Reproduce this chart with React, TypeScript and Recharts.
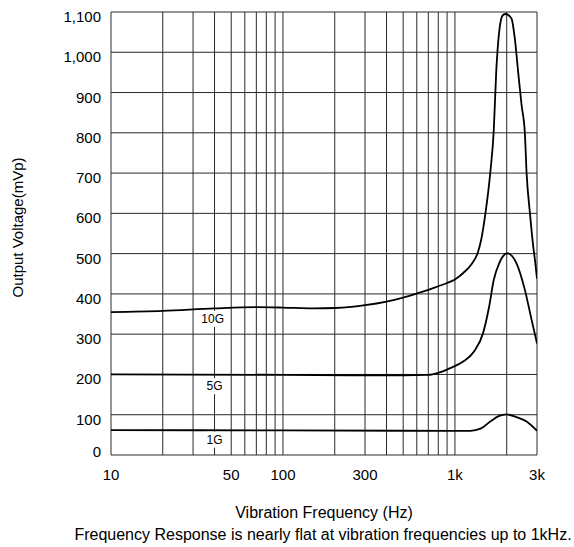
import { LineChart, Line, XAxis, YAxis, ReferenceLine, ReferenceDot } from 'recharts'

const FONT = '"Liberation Sans", Arial, sans-serif'

// frequency (Hz) / output (mVp)
const freq10G = [10, 20, 40, 70, 100, 150, 200, 250, 300, 400, 500, 600, 700, 800, 900, 1000, 1117, 1260, 1354, 1420, 1504, 1604, 1682, 1738, 1808, 1897, 1971, 2131, 2228, 2330, 2440, 2550, 2610, 2730, 2854, 2920, 3000]
const volt10G = [355, 358, 364, 367, 366, 364, 365, 368, 372, 381, 391, 401, 410, 419, 427, 436, 452, 476, 501, 534, 600, 700, 807, 952, 1051, 1092, 1095, 1084, 1035, 952, 869, 799, 700, 600, 517, 484, 438]

const freq5G = [10, 100, 300, 500, 700, 800, 930, 1117, 1291, 1456, 1580, 1682, 1808, 2008, 2280, 2550, 2793, 3000]
const volt5G = [200, 199, 198, 198, 199, 204, 215, 232, 257, 302, 368, 435, 476, 501, 476, 410, 335, 277]

const freq1G = [10, 100, 1000, 1229, 1420, 1604, 1808, 1990, 2280, 2610, 3000]
const volt1G = [62, 61, 60, 60, 66, 83, 97, 101, 94, 83, 60]

const xTicks = [10, 50, 100, 300, 1000, 3000]
const xGrid = [10, 20, 30, 40, 50, 60, 70, 80, 90, 100, 200, 300, 400, 500, 600, 700, 800, 900, 1000, 2000, 3000]
const yTicks = [0, 100, 200, 300, 400, 500, 600, 700, 800, 900, 1000, 1100]

const curveLabels = [
  { name: '10G', f: 39, v: 338 },
  { name: '5G', f: 40, v: 171 },
  { name: '1G', f: 40, v: 38 },
]

const toSeries = (fs: number[], vs: number[]) => fs.map((f, i) => ({ f, v: vs[i] }))

const fmtX = (v: number) => (v >= 1000 ? `${v / 1000}k` : `${v}`)

function XTick({ x, y, payload }: any) {
  return (
    <text x={x} y={y} dy={25} textAnchor="middle" fontSize={15} fontFamily={FONT} fill="#000">
      {fmtX(payload.value)}
    </text>
  )
}

function YTick({ x, y, payload }: any) {
  return (
    <text x={x} y={y} dy={payload.value === 0 ? 2 : 10} textAnchor="end" fontSize={15} fontFamily={FONT} fill="#000">
      {payload.value.toLocaleString('en-US')}
    </text>
  )
}

function CurveTag({ cx, cy, name }: any) {
  const w = name.length * 7 + 2
  return (
    <g>
      <rect x={cx - w / 2} y={cy - 8} width={w} height={16} fill="#fff" />
      <text x={cx} y={cy} dy={4} textAnchor="middle" fontSize={12} fontFamily={FONT} fill="#000">
        {name}
      </text>
    </g>
  )
}

export default function App() {
  const series = [
    { key: '10G', data: toSeries(freq10G, volt10G) },
    { key: '5G', data: toSeries(freq5G, volt5G) },
    { key: '1G', data: toSeries(freq1G, volt1G) },
  ]

  return (
    <div style={{ position: 'relative', width: 574, height: 547 }}>
      <style>{`body{margin:0;}`}</style>
      <LineChart width={574} height={547} margin={{ top: 12, right: 37, left: 0, bottom: 62 }}>
        <XAxis
          dataKey="f"
          type="number"
          scale="log"
          domain={[10, 3000]}
          ticks={xTicks}
          allowDataOverflow
          axisLine={false}
          tickLine={false}
          tickSize={0}
          tickMargin={0}
          height={30}
          tick={<XTick />}
        />
        <YAxis
          type="number"
          domain={[0, 1100]}
          ticks={yTicks}
          axisLine={false}
          tickLine={false}
          tickSize={0}
          tickMargin={10}
          width={111}
          tick={<YTick />}
        />
        {yTicks.map((v) => (
          <ReferenceLine key={`h${v}`} y={v} stroke="#2a2a2a" strokeWidth={1} />
        ))}
        {xGrid.map((f) => (
          <ReferenceLine key={`v${f}`} x={f} stroke="#2a2a2a" strokeWidth={1} />
        ))}
        {series.map((s) => (
          <Line
            key={s.key}
            data={s.data}
            dataKey="v"
            type="monotone"
            stroke="#000"
            strokeWidth={1.8}
            dot={false}
            isAnimationActive={false}
          />
        ))}
        {curveLabels.map((c) => (
          <ReferenceDot
            key={c.name}
            x={c.f}
            y={c.v}
            r={0}
            shape={(p: any) => <CurveTag {...p} name={c.name} />}
          />
        ))}
      </LineChart>
      <svg
        width={574}
        height={547}
        style={{ position: 'absolute', left: 0, top: 0, pointerEvents: 'none' }}
      >
        <text x={324} y={517.5} textAnchor="middle" fontSize={16} fontFamily={FONT} fill="#000">
          Vibration Frequency (Hz)
        </text>
        <text x={323} y={539.5} textAnchor="middle" fontSize={16} fontFamily={FONT} fill="#000">
          Frequency Response is nearly flat at vibration frequencies up to 1kHz.
        </text>
        <text
          x={23}
          y={227.5}
          transform="rotate(-90, 23, 227.5)"
          textAnchor="middle"
          fontSize={15}
          fontFamily={FONT}
          fill="#000"
        >
          Output Voltage(mVp)
        </text>
      </svg>
    </div>
  )
}
